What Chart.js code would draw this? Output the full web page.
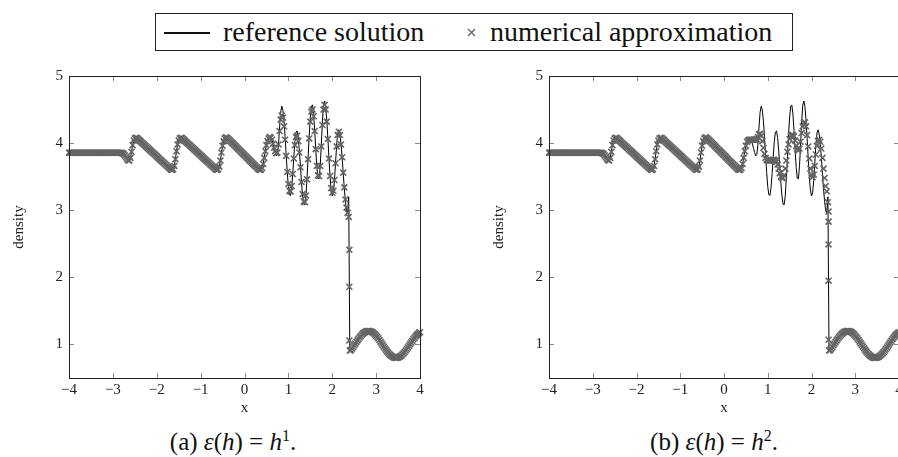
<!DOCTYPE html>
<html><head><meta charset="utf-8">
<script src="https://cdn.jsdelivr.net/npm/chart.js@4.4.1/dist/chart.umd.min.js"></script>
<style>
html,body{margin:0;padding:0;background:#fff;}
body{width:898px;height:457px;overflow:hidden;position:relative;font-family:"Liberation Serif",serif;color:#111;}
#legend{position:absolute;left:155px;top:13px;width:638px;height:38px;border:1px solid #222;box-sizing:border-box;}
#legend .lt{position:absolute;top:0;line-height:36px;font-size:28px;white-space:nowrap;font-family:"Liberation Serif",serif;}
#legend .ln{position:absolute;left:8px;top:18px;width:46px;height:1.5px;background:#111;}
#legend svg{position:absolute;left:311px;top:14px;}
.cw{position:absolute;top:0;width:440px;height:420px;}
.cap{position:absolute;top:427px;height:30px;line-height:30px;font-size:25px;text-align:center;white-space:nowrap;font-family:"Liberation Serif",serif;}
.cap sup{font-size:16px;vertical-align:top;line-height:18px;}
</style></head>
<body>
<div id="legend">
  <div class="ln"></div>
  <div class="lt" style="left:67px;">reference solution</div>
  <svg width="9" height="9" viewBox="0 0 9 9"><path d="M1,1L8,8M8,1L1,8" stroke="#666" stroke-width="1.4"/></svg>
  <div class="lt" style="left:334px;">numerical approximation</div>
</div>
<div class="cw" style="left:0px;"><canvas id="ca" width="440" height="420"></canvas></div>
<div class="cw" style="left:480px;"><canvas id="cb" width="440" height="420"></canvas></div>
<div class="cap" style="left:0px;width:466px;">(a) <i>ε</i>(<i>h</i>) = <i>h</i><sup>1</sup>.</div>
<div class="cap" style="left:480px;width:468px;">(b) <i>ε</i>(<i>h</i>) = <i>h</i><sup>2</sup>.</div>
<script>
// grid of sample abscissae: x = -4 ... 4, spacing 0.025
const xStart = -4, xStep = 0.025, nPts = 321;
const xs = [];
for (let i = 0; i < nPts; i++) xs.push(+(xStart + xStep * i).toFixed(3));

const xTicks = [-4, -3, -2, -1, 0, 1, 2, 3, 4];
const yTicks = [1, 2, 3, 4, 5];

// reference solution (density)
const refY = [
3.857,3.857,3.857,3.857,3.857,3.857,3.857,3.857,3.857,3.857,
3.857,3.857,3.857,3.857,3.857,3.857,3.857,3.857,3.857,3.857,
3.857,3.857,3.857,3.857,3.857,3.857,3.857,3.857,3.857,3.857,
3.857,3.857,3.857,3.857,3.857,3.857,3.857,3.857,3.857,3.857,
3.857,3.857,3.857,3.857,3.857,3.857,3.857,3.857,3.855,3.848,
3.835,3.815,3.79,3.765,3.745,3.74,3.78,3.87,3.97,4.04,
4.07,4.08,4.075,4.06,4.045,4.03,4.014,3.999,3.984,3.969,
3.954,3.939,3.924,3.908,3.893,3.878,3.863,3.848,3.833,3.818,
3.802,3.787,3.772,3.757,3.742,3.727,3.712,3.696,3.681,3.666,
3.651,3.636,3.622,3.608,3.6,3.61,3.66,3.76,3.88,3.98,
4.04,4.07,4.08,4.075,4.06,4.045,4.03,4.014,3.999,3.984,
3.969,3.954,3.939,3.924,3.908,3.893,3.878,3.863,3.848,3.833,
3.818,3.802,3.787,3.772,3.757,3.742,3.727,3.712,3.696,3.681,
3.666,3.651,3.636,3.622,3.608,3.6,3.61,3.65,3.74,3.86,
3.96,4.03,4.07,4.085,4.08,4.066,4.05,4.033,4.017,4.0,
3.984,3.967,3.951,3.935,3.918,3.902,3.885,3.869,3.852,3.836,
3.82,3.803,3.787,3.77,3.754,3.737,3.721,3.705,3.688,3.672,
3.655,3.639,3.622,3.608,3.6,3.605,3.63,3.69,3.78,3.88,
3.97,4.03,4.07,4.09,4.08,4.05,3.99,3.92,3.86,3.81,
3.83,3.98,4.24,4.46,4.55,4.494,4.334,4.097,3.825,3.562,
3.351,3.23,3.221,3.335,3.548,3.802,4.028,4.166,4.181,4.084,
3.888,3.655,3.41,3.212,3.09,3.082,3.213,3.478,3.792,4.121,
4.388,4.553,4.568,4.435,4.19,3.897,3.636,3.477,3.468,3.648,
3.969,4.317,4.563,4.627,4.541,4.342,4.071,3.77,3.497,3.299,
3.213,3.258,3.443,3.705,3.968,4.151,4.199,4.135,3.989,3.788,
3.551,3.32,3.126,2.995,2.955,3.2,0.9,0.915,0.938,0.962,
0.987,1.012,1.037,1.061,1.084,1.106,1.126,1.145,1.161,1.174,
1.185,1.193,1.198,1.2,1.199,1.194,1.187,1.177,1.164,1.148,
1.13,1.11,1.089,1.065,1.041,1.016,0.992,0.967,0.942,0.919,
0.897,0.877,0.858,0.841,0.827,0.816,0.807,0.802,0.8,0.801,
0.805,0.812,0.822,0.835,0.85,0.868,0.887,0.909,0.932,0.955,
0.98,1.005,1.03,1.054,1.078,1.1,1.12,1.139,1.155,1.169,
1.183];

// numerical approximation, eps(h) = h^1
const numAY = [
3.857,3.857,3.857,3.857,3.857,3.857,3.857,3.857,3.857,3.857,
3.857,3.857,3.857,3.857,3.857,3.857,3.857,3.857,3.857,3.857,
3.857,3.857,3.857,3.857,3.857,3.857,3.857,3.857,3.857,3.857,
3.857,3.857,3.857,3.857,3.857,3.857,3.857,3.857,3.857,3.857,
3.857,3.857,3.857,3.857,3.857,3.857,3.857,3.857,3.855,3.848,
3.835,3.815,3.79,3.765,3.745,3.74,3.78,3.87,3.97,4.04,
4.07,4.08,4.075,4.06,4.045,4.03,4.014,3.999,3.984,3.969,
3.954,3.939,3.924,3.908,3.893,3.878,3.863,3.848,3.833,3.818,
3.802,3.787,3.772,3.757,3.742,3.727,3.712,3.696,3.681,3.666,
3.651,3.636,3.622,3.608,3.6,3.61,3.66,3.76,3.88,3.98,
4.04,4.07,4.08,4.075,4.06,4.045,4.03,4.014,3.999,3.984,
3.969,3.954,3.939,3.924,3.908,3.893,3.878,3.863,3.848,3.833,
3.818,3.802,3.787,3.772,3.757,3.742,3.727,3.712,3.696,3.681,
3.666,3.651,3.636,3.622,3.608,3.6,3.61,3.65,3.74,3.86,
3.96,4.03,4.07,4.085,4.08,4.066,4.05,4.033,4.017,4.0,
3.984,3.967,3.951,3.935,3.918,3.902,3.885,3.869,3.852,3.836,
3.82,3.803,3.787,3.77,3.754,3.737,3.721,3.705,3.688,3.672,
3.655,3.639,3.622,3.608,3.6,3.605,3.63,3.69,3.78,3.88,
3.97,4.03,4.07,4.09,4.08,4.05,3.99,3.93,3.88,3.85,
3.86,3.98,4.18,4.35,4.41,4.38,4.25,4.05,3.81,3.57,
3.39,3.29,3.28,3.36,3.54,3.77,3.97,4.09,4.11,4.03,
3.86,3.64,3.42,3.24,3.13,3.12,3.22,3.46,3.76,4.07,
4.32,4.47,4.5,4.4,4.18,3.91,3.66,3.52,3.51,3.66,
3.95,4.27,4.5,4.57,4.5,4.32,4.06,3.77,3.51,3.33,
3.26,3.29,3.45,3.7,3.95,4.12,4.17,4.12,3.98,3.79,
3.56,3.34,3.16,3.04,2.96,2.9,0.91,0.915,0.938,0.962,
0.987,1.012,1.037,1.061,1.084,1.106,1.126,1.145,1.161,1.174,
1.185,1.193,1.198,1.2,1.199,1.194,1.187,1.177,1.164,1.148,
1.13,1.11,1.089,1.065,1.041,1.016,0.992,0.967,0.942,0.919,
0.897,0.877,0.858,0.841,0.827,0.816,0.807,0.802,0.8,0.801,
0.805,0.812,0.822,0.835,0.85,0.868,0.887,0.909,0.932,0.955,
0.98,1.005,1.03,1.054,1.078,1.1,1.12,1.139,1.155,1.169,
1.183];
// cells inside the shock (x ~ 2.39)
const shockX = 2.39;
const shockAY = [2.41, 1.86, 1.06];

// numerical approximation, eps(h) = h^2
const numBY = [
3.857,3.857,3.857,3.857,3.857,3.857,3.857,3.857,3.857,3.857,
3.857,3.857,3.857,3.857,3.857,3.857,3.857,3.857,3.857,3.857,
3.857,3.857,3.857,3.857,3.857,3.857,3.857,3.857,3.857,3.857,
3.857,3.857,3.857,3.857,3.857,3.857,3.857,3.857,3.857,3.857,
3.857,3.857,3.857,3.857,3.857,3.857,3.857,3.857,3.855,3.848,
3.835,3.815,3.79,3.765,3.745,3.74,3.78,3.87,3.97,4.04,
4.07,4.08,4.075,4.06,4.045,4.03,4.014,3.999,3.984,3.969,
3.954,3.939,3.924,3.908,3.893,3.878,3.863,3.848,3.833,3.818,
3.802,3.787,3.772,3.757,3.742,3.727,3.712,3.696,3.681,3.666,
3.651,3.636,3.622,3.608,3.6,3.61,3.66,3.76,3.88,3.98,
4.04,4.07,4.08,4.075,4.06,4.045,4.03,4.014,3.999,3.984,
3.969,3.954,3.939,3.924,3.908,3.893,3.878,3.863,3.848,3.833,
3.818,3.802,3.787,3.772,3.757,3.742,3.727,3.712,3.696,3.681,
3.666,3.651,3.636,3.622,3.608,3.6,3.61,3.65,3.74,3.86,
3.96,4.03,4.07,4.085,4.08,4.066,4.05,4.033,4.017,4.0,
3.984,3.967,3.951,3.935,3.918,3.902,3.885,3.869,3.852,3.836,
3.82,3.803,3.787,3.77,3.754,3.737,3.721,3.705,3.688,3.672,
3.655,3.639,3.622,3.608,3.6,3.605,3.63,3.69,3.78,3.88,
3.96,4.02,4.04,4.05,4.05,4.05,4.05,4.05,4.05,4.05,
4.06,4.09,4.13,4.14,4.11,4.03,3.93,3.84,3.78,3.75,
3.74,3.74,3.74,3.74,3.745,3.75,3.75,3.74,3.72,3.68,
3.62,3.55,3.5,3.48,3.48,3.52,3.62,3.74,3.87,3.98,
4.06,4.11,4.12,4.12,4.1,4.04,3.96,3.91,3.89,3.92,
4.02,4.15,4.25,4.3,4.31,4.25,4.12,3.95,3.77,3.62,
3.52,3.49,3.53,3.66,3.83,3.96,4.03,4.05,4.02,3.92,
3.78,3.62,3.48,3.36,3.28,3.12,0.91,0.915,0.938,0.962,
0.987,1.012,1.037,1.061,1.084,1.106,1.126,1.145,1.161,1.174,
1.185,1.193,1.198,1.2,1.199,1.194,1.187,1.177,1.164,1.148,
1.13,1.11,1.089,1.065,1.041,1.016,0.992,0.967,0.942,0.919,
0.897,0.877,0.858,0.841,0.827,0.816,0.807,0.802,0.8,0.801,
0.805,0.812,0.822,0.835,0.85,0.868,0.887,0.909,0.932,0.955,
0.98,1.005,1.03,1.054,1.078,1.1,1.12,1.139,1.155,1.169,
1.183];
const shockBY = [2.98, 2.83, 2.49, 1.95, 1.07];

const FONT = '"Liberation Serif", "Times New Roman", serif';

const framePlugin = {
  id: 'frame',
  afterDraw(chart) {
    const { ctx, chartArea: a, scales: { x, y } } = chart;
    ctx.save();
    ctx.strokeStyle = '#8a8a8a';
    ctx.lineWidth = 1;
    ctx.beginPath();
    xTicks.forEach(v => {
      const px = Math.round(x.getPixelForValue(v)) + 0.5;
      ctx.moveTo(px, a.bottom); ctx.lineTo(px, a.bottom - 5);
      ctx.moveTo(px, a.top); ctx.lineTo(px, a.top + 5);
    });
    yTicks.forEach(v => {
      const py = Math.round(y.getPixelForValue(v)) + 0.5;
      ctx.moveTo(a.left, py); ctx.lineTo(a.left + 5, py);
      ctx.moveTo(a.right, py); ctx.lineTo(a.right - 5, py);
    });
    ctx.stroke();
    ctx.strokeStyle = '#222';
    ctx.lineWidth = 1;
    ctx.strokeRect(Math.round(a.left) + 0.5, Math.round(a.top) + 0.5,
                   Math.round(a.right - a.left), Math.round(a.bottom - a.top));
    ctx.restore();
  }
};

function makeChart(id, numY, shockY, padRight) {
  const numData = xs.map((x, i) => ({ x, y: numY[i] }))
    .concat(shockY.map(y => ({ x: shockX, y })));
  const refData = xs.map((x, i) => ({ x, y: refY[i] }));
  return new Chart(document.getElementById(id), {
    type: 'scatter',
    data: {
      datasets: [
        { label: 'reference solution', data: refData, showLine: true,
          borderColor: '#000', borderWidth: 1, pointRadius: 0, fill: false,
          tension: 0, order: 2 },
        { label: 'numerical approximation', data: numData, showLine: false,
          pointStyle: 'crossRot', pointRadius: 4.2, pointBorderColor: '#646464',
          pointBackgroundColor: '#646464', pointBorderWidth: 1.6, clip: false, order: 1 }
      ]
    },
    options: {
      responsive: false, animation: false, devicePixelRatio: 1,
      layout: { padding: { top: 76, right: padRight, bottom: 0, left: 0 } },
      plugins: { legend: { display: false }, tooltip: { enabled: false } },
      events: [],
      scales: {
        x: {
          type: 'linear', min: -4, max: 4,
          grid: { display: false, drawTicks: false },
          border: { display: false },
          ticks: { stepSize: 1, autoSkip: false, maxRotation: 0, padding: 3,
                   color: '#222', font: { family: FONT, size: 15 },
                   callback: v => String(v).replace('-', '\u2212') },
          title: { display: true, text: 'x', color: '#222',
                   font: { family: FONT, size: 15 }, padding: { top: 0, bottom: 3 } },
          afterFit: s => { s.height = 42; }
        },
        y: {
          type: 'linear', min: 0.5, max: 5,
          grid: { display: false, drawTicks: false },
          border: { display: false },
          afterBuildTicks: s => { s.ticks = yTicks.map(v => ({ value: v })); },
          ticks: { padding: 6, color: '#222', font: { family: FONT, size: 15 },
                   callback: v => String(v) },
          title: { display: true, text: 'density', color: '#222',
                   font: { family: FONT, size: 15 }, padding: { top: 10, bottom: 0 } },
          afterFit: s => { s.width = 69; }
        }
      }
    },
    plugins: [framePlugin]
  });
}

makeChart('ca', numAY, shockAY, 20);
makeChart('cb', numBY, shockBY, 21);
</script>
</body></html>
